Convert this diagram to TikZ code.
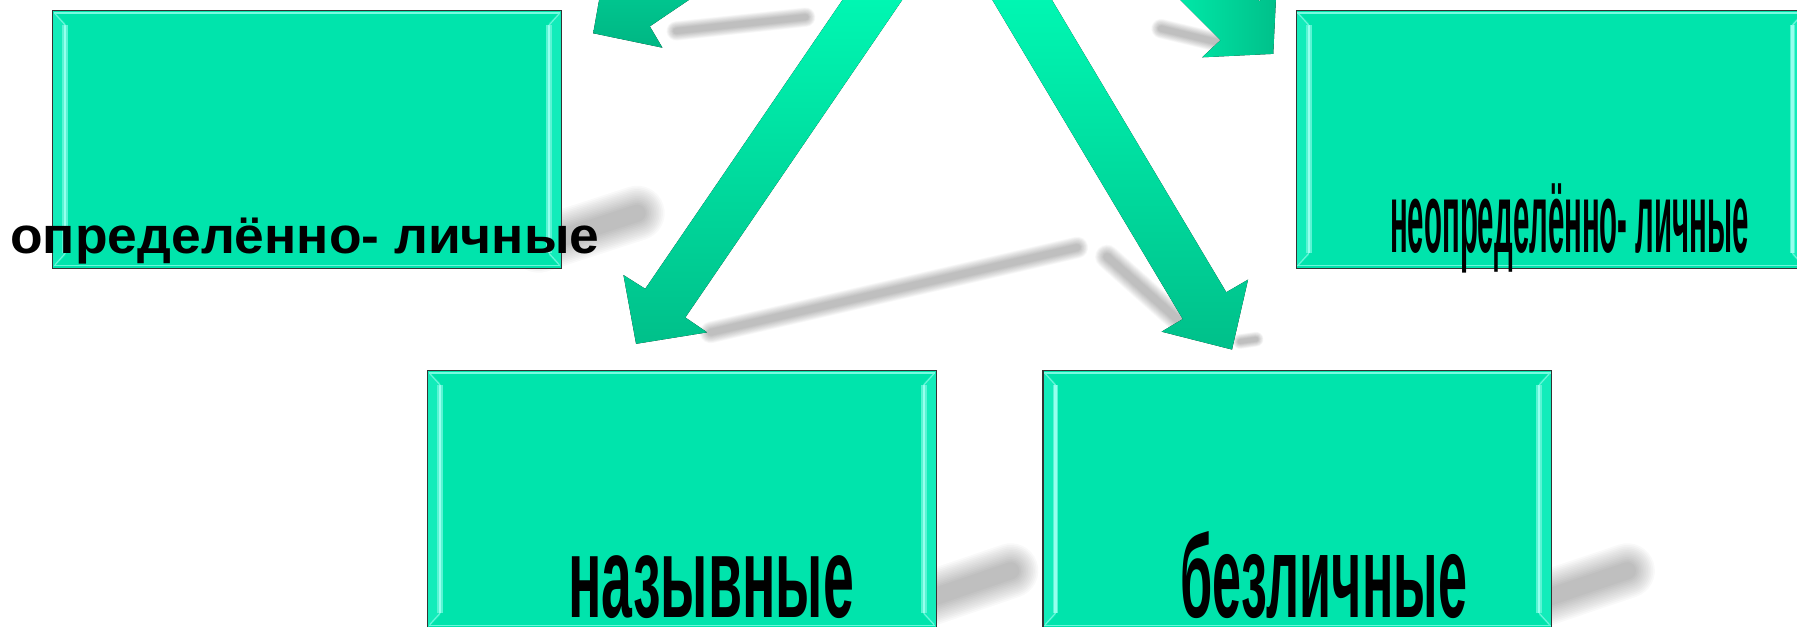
\documentclass[tikz,border=0pt]{standalone}
\usepackage{fontspec}
\setmainfont{Liberation Sans}
\definecolor{boxfill}{RGB}{0,228,172}
\definecolor{bevelfill}{RGB}{18,236,186}
\definecolor{hlc}{RGB}{150,255,238}
\definecolor{arrtop}{RGB}{0,252,182}
\definecolor{arrbot}{RGB}{0,192,138}
\definecolor{arrmid}{RGB}{0,214,156}
\newcommand{\softshadow}[3]{%
  \foreach \k in {5,...,16}{%
    \pgfmathsetmacro\lw{#3*\k/16}%
    \draw[black, opacity=0.022, line cap=round, line width=\lw pt] #1 -- #2;%
  }%
}
\tikzset{
  gbox/.style={rectangle, draw=black!80, line width=1.1pt, fill=boxfill,
    minimum width=444pt, minimum height=225pt, inner sep=0pt,
    path picture={
      \coordinate (pnw) at (path picture bounding box.north west);
      \coordinate (pne) at (path picture bounding box.north east);
      \coordinate (psw) at (path picture bounding box.south west);
      \coordinate (pse) at (path picture bounding box.south east);
      \fill[bevelfill] (pnw) -- ([shift={(11pt,-11pt)}]pnw) -- ([shift={(11pt,11pt)}]psw) -- (psw) -- cycle;
      \fill[bevelfill] (pne) -- ([shift={(-11pt,-11pt)}]pne) -- ([shift={(-11pt,11pt)}]pse) -- (pse) -- cycle;
      \draw[hlc!60!boxfill, line width=5pt] ([shift={(11pt,-13pt)}]pnw) -- ([shift={(11pt,13pt)}]psw);
      \draw[hlc!60!boxfill, line width=5pt] ([shift={(-11pt,-13pt)}]pne) -- ([shift={(-11pt,13pt)}]pse);
      \draw[hlc, line width=2pt] ([shift={(11pt,-13pt)}]pnw) -- ([shift={(11pt,13pt)}]psw);
      \draw[hlc, line width=2pt] ([shift={(-11pt,-13pt)}]pne) -- ([shift={(-11pt,13pt)}]pse);
      \draw[hlc!80!boxfill, line width=1.4pt] ([shift={(1pt,-2.3pt)}]pnw) -- ([shift={(-1pt,-2.3pt)}]pne);
      \draw[hlc!70!boxfill, line width=1.4pt] ([shift={(1pt,2.3pt)}]psw) -- ([shift={(-1pt,2.3pt)}]pse);
      \draw[hlc!70!boxfill, line width=1pt] ([shift={(2pt,-3pt)}]pnw) -- ([shift={(11pt,-13pt)}]pnw);
      \draw[hlc!70!boxfill, line width=1pt] ([shift={(-2pt,-3pt)}]pne) -- ([shift={(-11pt,-13pt)}]pne);
      \draw[hlc!70!boxfill, line width=1pt] ([shift={(2pt,3pt)}]psw) -- ([shift={(11pt,13pt)}]psw);
      \draw[hlc!70!boxfill, line width=1pt] ([shift={(-2pt,3pt)}]pse) -- ([shift={(-11pt,13pt)}]pse);
    }},
  lbl/.style={anchor=base west, inner sep=0pt, outer sep=0pt}
}
\begin{document}
\begin{tikzpicture}[x=1pt, y=-1pt]
\useasboundingbox (0,0) rectangle (1568,547);
\clip (0,0) rectangle (1568,547);

% shadows of boxes
\softshadow{(470,214)}{(556,186)}{48}
\softshadow{(797,527)}{(882,498)}{48}
\softshadow{(1334,527)}{(1420,498)}{48}
% shadows of arrows
\softshadow{(590,27)}{(703,15)}{17}
\softshadow{(620,290)}{(940,216)}{19}
\softshadow{(966,224)}{(1030,281)}{21}
\softshadow{(1013,25)}{(1063,37)}{17}
\softshadow{(1082,298)}{(1096,296)}{13}

% arrows
\fill[top color=arrtop, bottom color=arrbot]
  (755.6,-30) -- (563,252) -- (544,240) -- (555,300) -- (617,290) -- (598,277) -- (807.7,-30) -- cycle;
\fill[top color=arrtop, bottom color=arrbot]
  (848,-30) -- (1032,278.4) -- (1013.6,289.4) -- (1075,305) -- (1089,244) -- (1070,255) -- (900,-30) -- cycle;
\fill[top color=arrmid, bottom color=arrbot!95!black]
  (517.6,29) -- (578,41.6) -- (567,23) -- (635,-23) -- (592.6,-49.3) -- (541.6,-14.8) -- (528.4,-31.8) -- cycle;
\fill[left color=arrtop!85!arrbot, right color=arrbot]
  (1111,47) -- (1049,50) -- (1065,35) -- (1005,-25) -- (1059,-39) -- (1099,1) -- (1114,-15) -- cycle;

% boxes
\node[gbox] (b1) at (268,121.5) {};
\node[gbox] (b2) at (1353,121.5) {};
\node[gbox] (b3) at (595,435.5) {};
\node[gbox] (b4) at (1132,435.5) {};

% labels
\node[lbl] (t1) at (9,221) {\resizebox{514pt}{31pt}{\bfseries определённо- личные}};
\node[lbl] (t2) at (1213,220) {\resizebox{313pt}{60pt}{\bfseries неопределённо- личные}};
\node[lbl] (t3) at (496,539) {\resizebox{249pt}{54pt}{\bfseries назывные}};
\node[lbl] (t4) at (1030,539) {\resizebox{250pt}{75pt}{\bfseries безличные}};
\end{tikzpicture}
\end{document}
